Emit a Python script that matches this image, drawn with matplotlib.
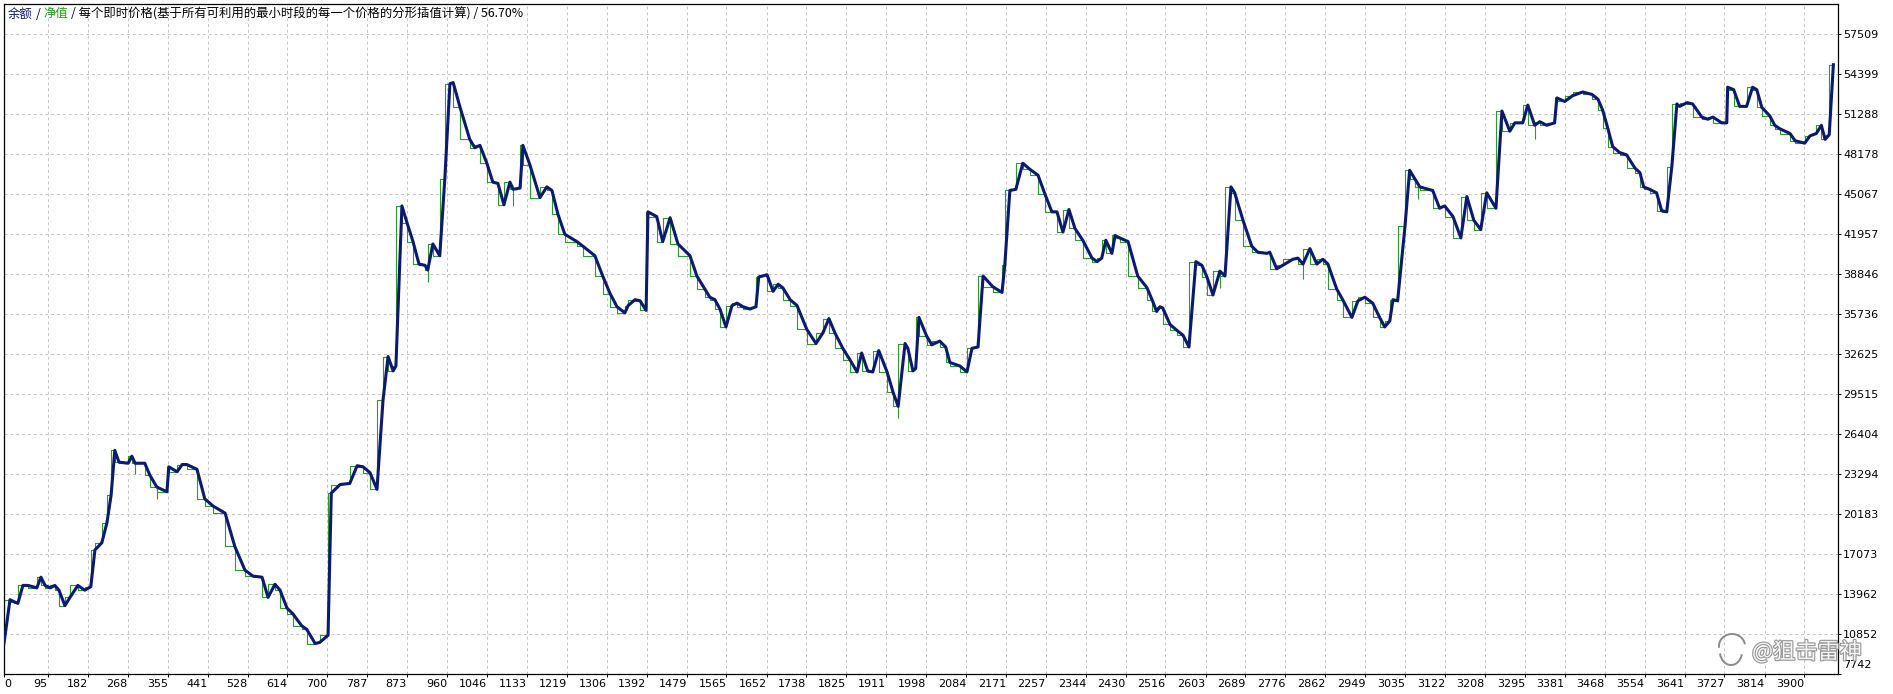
import numpy as np
import matplotlib
matplotlib.use("Agg")
import matplotlib.pyplot as plt
import matplotlib.patheffects as pe
from matplotlib.patches import Arc
from matplotlib.transforms import ScaledTranslation

# balance curve (bar index, account value)
bal_idx = [0, 13, 22, 30, 41, 52, 71, 80, 89, 100, 110, 119, 132, 143, 160, 175, 188, 197, 212, 223,
           232, 240, 249, 269, 277, 284, 305, 316, 331, 353, 357, 375, 386, 396, 418, 435, 453, 479, 500, 522,
           539, 559, 572, 587, 598, 613, 626, 645, 656, 674, 684, 702, 709, 728, 749, 765, 778, 793, 808, 821,
           832, 843, 849, 862, 873, 886, 899, 912, 918, 929, 944, 955, 966, 973, 988, 1009, 1020, 1031, 1046, 1059,
           1070, 1083, 1096, 1103, 1118, 1124, 1139, 1161, 1176, 1187, 1200, 1215, 1241, 1254, 1280, 1297, 1313, 1328, 1345, 1352,
           1367, 1378, 1391, 1395, 1414, 1427, 1443, 1460, 1486, 1501, 1518, 1529, 1540, 1551, 1564, 1577, 1588, 1601, 1616, 1629,
           1635, 1653, 1666, 1677, 1687, 1703, 1718, 1739, 1759, 1774, 1787, 1800, 1817, 1833, 1848, 1858, 1871, 1882, 1895, 1913,
           1926, 1937, 1952, 1958, 1969, 1975, 1982, 1999, 2010, 2027, 2040, 2049, 2071, 2086, 2097, 2110, 2121, 2142, 2162, 2168,
           2179, 2192, 2207, 2222, 2240, 2255, 2270, 2281, 2294, 2307, 2320, 2337, 2357, 2368, 2378, 2387, 2400, 2407, 2417, 2435,
           2456, 2476, 2487, 2497, 2504, 2510, 2526, 2541, 2554, 2567, 2582, 2595, 2606, 2619, 2634, 2645, 2658, 2666, 2684, 2703,
           2716, 2736, 2742, 2757, 2770, 2792, 2803, 2814, 2829, 2844, 2857, 2868, 2887, 2900, 2920, 2933, 2948, 2965, 2980, 2991,
           3002, 3009, 3019, 3035, 3045, 3056, 3067, 3095, 3110, 3121, 3139, 3156, 3169, 3184, 3199, 3212, 3232, 3245, 3262, 3273,
           3290, 3301, 3316, 3327, 3342, 3359, 3364, 3381, 3398, 3420, 3440, 3453, 3463, 3474, 3485, 3500, 3515, 3533, 3544, 3552,
           3565, 3580, 3591, 3602, 3613, 3624, 3630, 3646, 3658, 3678, 3691, 3702, 3721, 3732, 3734, 3747, 3760, 3775, 3788, 3797,
           3808, 3825, 3836, 3847, 3869, 3880, 3901, 3912, 3926, 3937, 3945, 3954, 3963]
balance = [10130, 13520, 13360, 13240, 14630, 14630, 14440, 15270, 14630, 14440, 14630, 14260, 13060, 13700, 14630, 14260, 14530, 17390, 17950, 19510,
           21640, 25130, 24220, 24130, 24680, 24130, 24130, 23200, 22280, 21910, 23850, 23470, 24030, 24030, 23660, 21360, 20800, 20250, 17660, 15820,
           15360, 15270, 13700, 14720, 14260, 12870, 12410, 11490, 11210, 10110, 10200, 10750, 21810, 22470, 22560, 23940, 23850, 23390, 22100, 29010,
           32430, 31310, 31690, 44140, 42840, 41370, 39620, 39520, 39160, 41180, 40270, 46260, 53640, 53730, 51800, 49310, 48660, 48850, 47460, 45990,
           45890, 44230, 45990, 45430, 45530, 48850, 47360, 44790, 45620, 45340, 43500, 41930, 41370, 41010, 40270, 38690, 37320, 36300, 35830, 36390,
           36850, 36760, 36020, 43680, 43310, 41370, 43220, 41180, 40270, 38690, 37680, 37040, 36850, 36120, 34730, 36390, 36580, 36300, 36120, 36300,
           38610, 38790, 37500, 38050, 37780, 36850, 36390, 34550, 33440, 34270, 35380, 34270, 33070, 32150, 31230, 32700, 31310, 31230, 32890, 31230,
           29650, 28550, 33440, 33070, 31310, 31500, 35470, 34000, 33340, 33630, 33170, 31970, 31690, 31230, 33070, 33170, 38690, 37860, 37410, 39520,
           45340, 45430, 47460, 47000, 46530, 45060, 43680, 43680, 42110, 43860, 42390, 41470, 40080, 39810, 40080, 41470, 40450, 41840, 41650, 41370,
           38690, 37780, 36850, 35930, 36300, 36210, 34920, 34460, 34090, 33170, 39810, 39520, 38610, 37220, 39070, 38690, 45620, 45160, 43030, 41010,
           40540, 40450, 40540, 39250, 39520, 39990, 40080, 39620, 40820, 39620, 39990, 39620, 37680, 36850, 35470, 36760, 37040, 36580, 35470, 34730,
           35190, 36850, 36760, 42570, 46910, 46260, 45620, 45340, 43960, 44140, 43310, 41650, 44870, 43030, 42300, 45160, 43960, 51520, 49950, 50600,
           50600, 51980, 50410, 50690, 50410, 50600, 52540, 52260, 52710, 53000, 52810, 52440, 51610, 50220, 48750, 48290, 48110, 47090, 46720, 45620,
           45430, 45160, 43770, 43680, 47190, 52070, 51880, 52170, 52070, 51050, 50880, 51050, 50600, 50600, 53370, 53180, 51880, 51880, 53370, 53180,
           51800, 51150, 50410, 50140, 49770, 49210, 49020, 49580, 49770, 50410, 49310, 49680, 55120]

# equity follows the balance ahead of each move, with a few dips below it
eq_dip_idx = [284, 331, 918, 1103, 1937, 2634, 2814, 3063, 3316]
eq_dip_val = [23300, 21360, 38240, 44140, 27630, 37780, 38420, 44700, 49310]

y_ticks = [7742, 10852, 13962, 17073, 20183, 23294, 26404, 29515, 32625, 35736, 38846,
           41957, 45067, 48178, 51288, 54399, 57509]
x_ticks = [0, 95, 182, 268, 355, 441, 528, 614, 700, 787, 873, 960, 1046, 1133, 1219, 1306,
           1392, 1479, 1565, 1652, 1738, 1825, 1911, 1998, 2084, 2171, 2257, 2344, 2430, 2516,
           2603, 2689, 2776, 2862, 2949, 3035, 3122, 3208, 3295, 3381, 3468, 3554, 3641, 3727,
           3814, 3900]

title_parts = ["余额", "净值", "每个即时价格(基于所有可利用的最小时段的每一个价格的分形插值计算)", "56.70%"]

W, H = 1893, 694
fig = plt.figure(figsize=(W / 100, H / 100), dpi=100)
ax = fig.add_axes([4 / W, 20 / H, 1834 / W, 670 / H])

navy = "#0a1a6e"
green = "#2a9a2a"

ax.plot(bal_idx, balance, drawstyle="steps-pre", color=green, lw=0.8, zorder=2)
base = np.interp(eq_dip_idx, bal_idx, balance)
ax.vlines(eq_dip_idx, eq_dip_val, base, color=green, lw=0.8, zorder=2)
ax.plot(bal_idx, balance, color=navy, lw=2.2, zorder=3, solid_joinstyle="round")

ax.set_xlim(0, 3973)
ax.set_ylim(7742, 59841)
ax.set_xticks(x_ticks)
ax.set_xticklabels([str(v) for v in x_ticks])
ax.set_yticks(y_ticks)
ax.set_yticklabels([str(v) for v in y_ticks])
ax.yaxis.tick_right()
ax.tick_params(axis="both", direction="out", length=2.2, width=0.7, pad=1.5,
               labelsize=8, colors="black")
ax.grid(True, color="#c4c4c4", lw=0.7, linestyle=(0, (3, 3)))
for s in ax.spines.values():
    s.set_color("black")
    s.set_linewidth(0.9)

xl = ax.get_xticklabels()
for t in xl:
    t.set_ha("right")
xl[0].set_ha("left")
yl = ax.get_yticklabels()
yl[0].set_transform(yl[0].get_transform() + ScaledTranslation(0, 10 / 100, fig.dpi_scale_trans))

# title, coloured pieces placed by measuring the full line
fam = ["Noto Sans CJK SC", "DejaVu Sans"]
full = title_parts[0] + " / " + title_parts[1] + " / " + title_parts[2] + " / " + title_parts[3]
r = fig.canvas.get_renderer()
fs = 8.9


def wid(s):
    t = fig.text(0, 0, s, fontsize=fs, family=fam)
    w = t.get_window_extent(r).width
    t.remove()
    return w


x0 = 8
ty = 1 - 14 / H
rest = "/ " + title_parts[2] + " / " + title_parts[3]
pieces = [
    (title_parts[0], x0, navy),
    ("/", x0 + wid(title_parts[0] + " /") - wid("/"), "black"),
    (title_parts[1], x0 + wid(title_parts[0] + " / " + title_parts[1]) - wid(title_parts[1]), "#1f9e1f"),
    (rest, x0 + wid(full) - wid(rest), "black"),
]
for s, px, c in pieces:
    fig.text(px / W, ty, s, fontsize=fs, family=fam, color=c, ha="left", va="center")

# watermark
fig.text(1752 / W, 1 - 652 / H, "@狙击雷神", fontsize=16, family=fam, color="white",
         ha="left", va="center", alpha=0.9,
         path_effects=[pe.withStroke(linewidth=1.6, foreground="#8a8a8a")])
fig.add_artist(Arc((1732 / W, 1 - 646 / H), 26 / W, 24 / H, theta1=20, theta2=200,
                   transform=fig.transFigure, color="#8a8a8a", lw=1.4))
fig.add_artist(Arc((1731 / W, 1 - 652 / H), 22 / W, 26 / H, theta1=200, theta2=330,
                   transform=fig.transFigure, color="#8a8a8a", lw=1.4))

fig.savefig("out.png", dpi=100)
